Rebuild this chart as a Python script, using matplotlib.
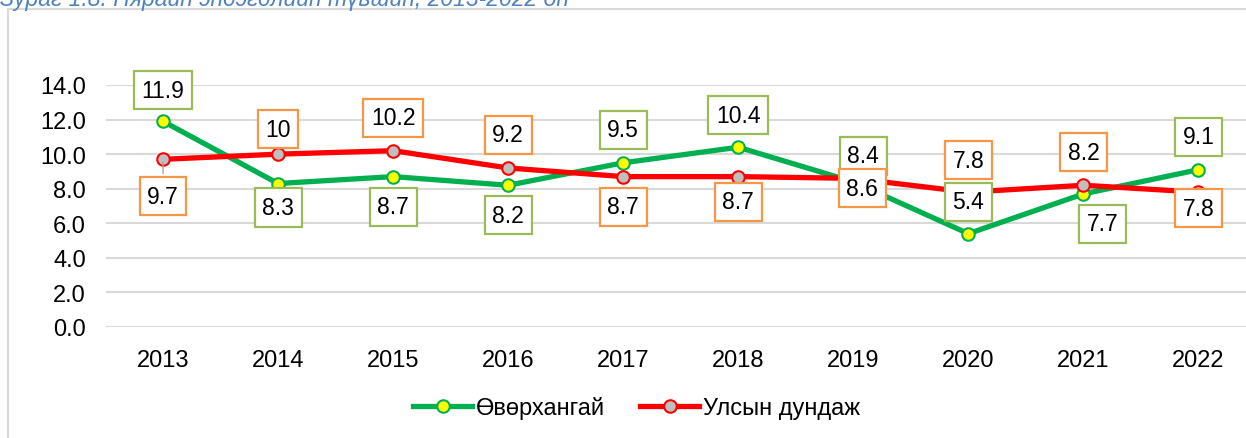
import matplotlib.pyplot as plt
from matplotlib.patches import Rectangle

years = ["2013", "2014", "2015", "2016", "2017", "2018", "2019", "2020", "2021", "2022"]
uvurkhangai = [11.9, 8.3, 8.7, 8.2, 9.5, 10.4, 8.4, 5.4, 7.7, 9.1]
national = [9.7, 10, 10.2, 9.2, 8.7, 8.7, 8.6, 7.8, 8.2, 7.8]
uvurkhangai_text = ["11.9", "8.3", "8.7", "8.2", "9.5", "10.4", "8.4", "5.4", "7.7", "9.1"]
national_text = ["9.7", "10", "10.2", "9.2", "8.7", "8.7", "8.6", "7.8", "8.2", "7.8"]

# label offsets in pixels (dx, dy) relative to each point
green_off = [(0, 31), (0, -24), (0, -30), (0, -30), (0, 33), (0, 32), (10, 26), (0, 32), (19, -30), (0, 33)]
red_off = [(0, -37), (0, 25), (0, 33), (0, 33), (0, -30), (0, -25), (9, -10), (0, 32), (0, 33), (0, -16)]

plt.rcParams['font.family'] = ['Liberation Sans', 'DejaVu Sans']

fig = plt.figure(figsize=(12.46, 4.39), dpi=100)

# chart frame
fig.patches.append(Rectangle((8 / 1246, -0.05), 1.1, 1 - 10 / 439 + 0.05,
                             transform=fig.transFigure, fill=False,
                             edgecolor='#D9D9D9', linewidth=1.5))

fig.text(0.0, 1 - 6 / 439, "Зураг 1.8. Нярайн эндэгдлийн түвшин, 2013-2022 он",
         color='#4F81BD', fontsize=16.5, style='italic', va='baseline', ha='left')

ax = fig.add_axes([105.5 / 1246, 111 / 439, 1150.5 / 1246, 242 / 439])
x = list(range(len(years)))

ax.plot(x, uvurkhangai, color='#00B050', linewidth=3.8, marker='o', markersize=9,
        markerfacecolor='#FFFF00', markeredgecolor='#00B050', markeredgewidth=1.5,
        label='Өвөрхангай', zorder=3)
ax.plot(x, national, color='#FF0000', linewidth=3.8, marker='o', markersize=9,
        markerfacecolor='#BFBFBF', markeredgecolor='#FF0000', markeredgewidth=1.5,
        label='Улсын дундаж', zorder=3)

for i in x:
    dx, dy = green_off[i]
    ax.annotate(uvurkhangai_text[i], (i, uvurkhangai[i]), xytext=(dx, dy),
                textcoords='offset pixels', ha='center', va='center', fontsize=16.5,
                bbox=dict(boxstyle='square,pad=0.33', facecolor='white',
                          edgecolor='#9BBB59', linewidth=1.6), zorder=5)
    dx, dy = red_off[i]
    arrow = dict(arrowstyle='-', color='#A6A6A6', lw=1) if i == 0 else None
    ax.annotate(national_text[i], (i, national[i]), xytext=(dx, dy),
                textcoords='offset pixels', ha='center', va='center', fontsize=16.5,
                bbox=dict(boxstyle='square,pad=0.33', facecolor='white',
                          edgecolor='#F79646', linewidth=1.6),
                arrowprops=arrow, zorder=5)

ax.set_xlim(-0.5, len(years) - 0.5)
ax.set_ylim(0, 14)
ax.set_yticks([0, 2, 4, 6, 8, 10, 12, 14])
ax.set_yticklabels([f"{v:.1f}" for v in [0, 2, 4, 6, 8, 10, 12, 14]])
ax.set_xticks(x)
ax.set_xticklabels(years)
ax.tick_params(axis='both', length=0, labelsize=17)
ax.tick_params(axis='y', pad=14)
ax.tick_params(axis='x', pad=16)
ax.grid(axis='y', color='#D9D9D9', linewidth=1.5, zorder=0)
ax.set_axisbelow(True)
for s in ax.spines.values():
    s.set_visible(False)

fig.legend(loc='center', bbox_to_anchor=(0.511, 1 - 409 / 439), ncol=2, frameon=False,
           fontsize=17, handlelength=2.5, handletextpad=0.15, columnspacing=1.5)

fig.savefig('out.png', dpi=100)
